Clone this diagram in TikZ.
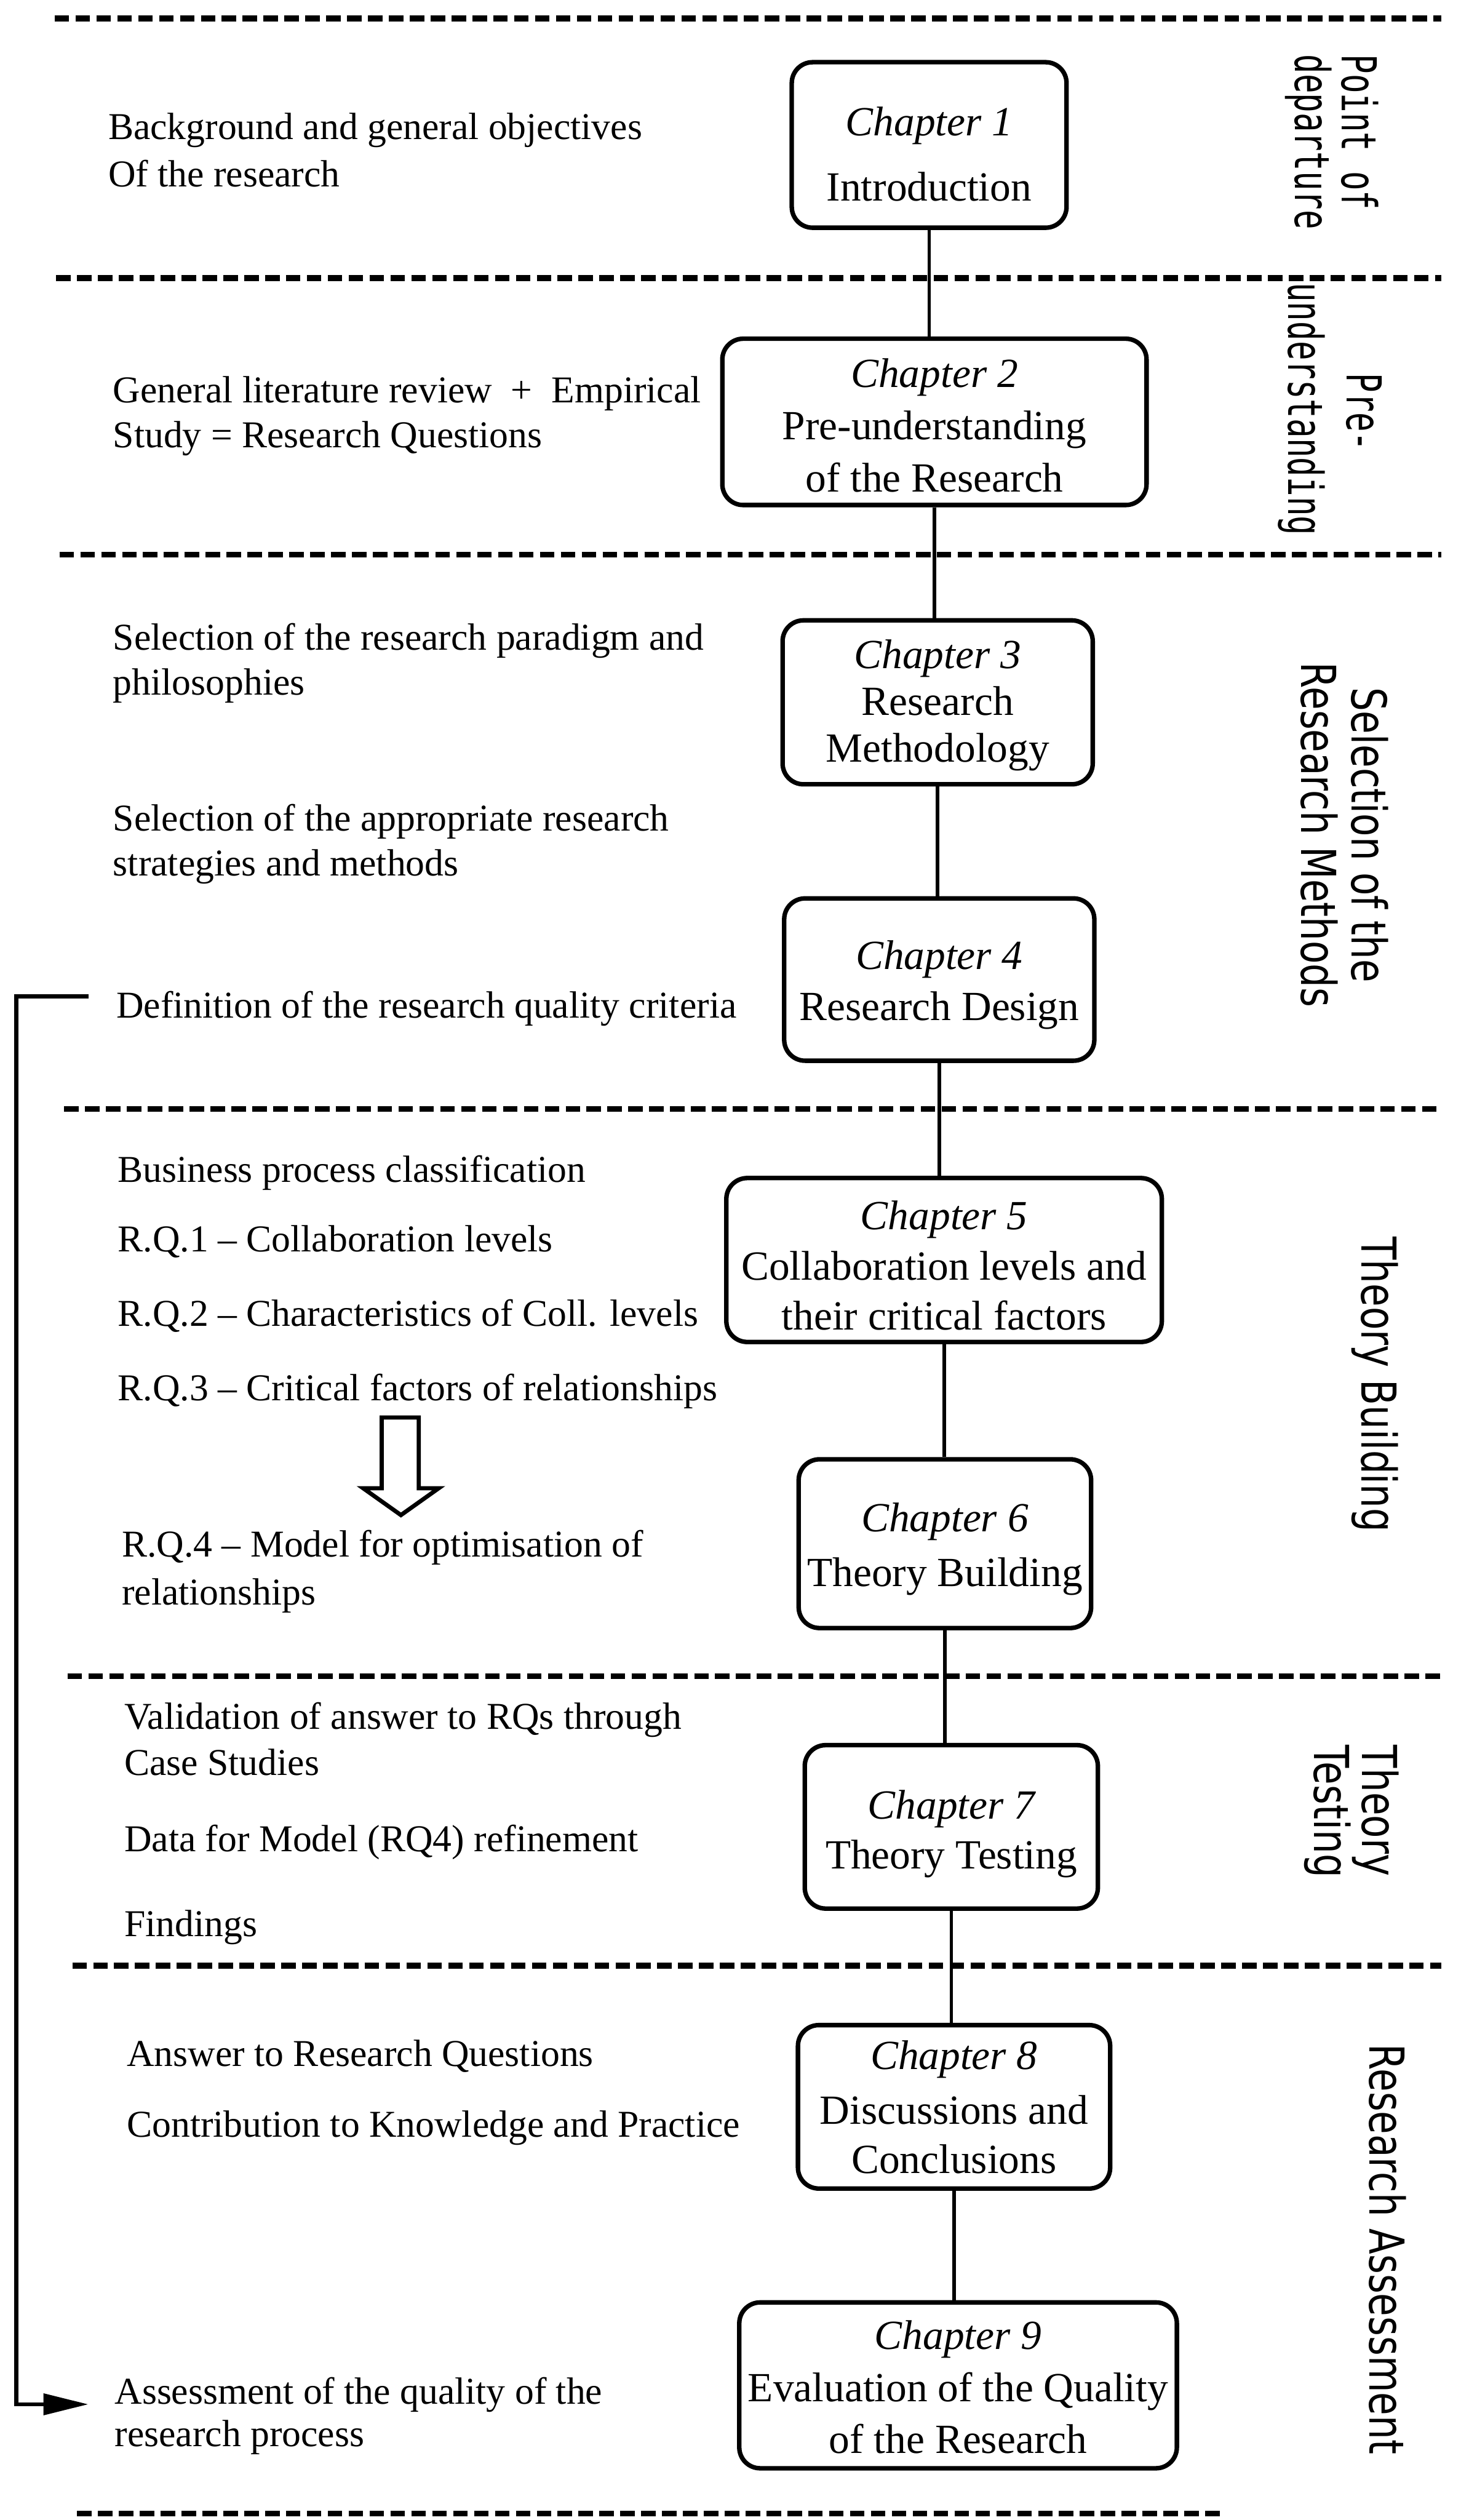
\documentclass[tikz,border=0pt]{standalone}
\usepackage{fontspec}
\setmainfont{Liberation Serif}
\newfontfamily\vsans[FakeStretch=0.78]{DejaVu Sans}
\newfontfamily\vmono[FakeStretch=0.67]{DejaVu Sans Mono}
\usetikzlibrary{arrows.meta}
\begin{document}
\begin{tikzpicture}[x=0.5pt,y=-0.5pt,
 chbox/.style={draw, line width=1.4pt, rounded corners=6.5pt, inner sep=0pt},
 chtxt/.style={anchor=base, inner sep=0pt, font=\fontsize{12.9}{15}\selectfont},
 chit/.style={anchor=base, inner sep=0pt, font=\fontsize{12.9}{15}\selectfont\itshape},
 ltxt/.style={anchor=base west, inner sep=0pt, font=\fontsize{11.8}{14}\selectfont},
 vs/.style={rotate=-90, inner sep=0pt, font=\vsans\fontsize{15}{18}\selectfont},
 vm/.style={rotate=-90, inner sep=0pt, font=\vmono\fontsize{15}{18}\selectfont},
 sep/.style={line width=1.8pt, dash pattern=on 4.5pt off 2pt},
 conn/.style={line width=1.1pt},
 fb/.style={line width=1.3pt},
 hollow/.style={draw, line width=1.3pt, fill=white, line join=miter}
]
\fill[white] (0,0) rectangle (909,1568);
\useasboundingbox (0,0) rectangle (909,1568);

% section separators
\draw[sep] (34,11.5) -- (897,11.5);
\draw[sep] (35,173) -- (897,173);
\draw[sep] (37,345) -- (897,345);
\draw[sep] (40,690) -- (897,690);
\draw[sep] (42,1043) -- (897,1043);
\draw[sep] (45,1223) -- (897,1223);
\draw[sep] (48,1564) -- (760,1564);

% chapter boxes
\node[chbox, minimum width=85.5pt, minimum height=51.5pt] (ch1) at (578.2,90.2) {};
\node[chbox, minimum width=132pt, minimum height=51.75pt] (ch2) at (581.5,262.5) {};
\node[chbox, minimum width=96.5pt, minimum height=51pt] (ch3) at (583.5,437) {};
\node[chbox, minimum width=96.5pt, minimum height=50.5pt] (ch4) at (584.5,609.5) {};
\node[chbox, minimum width=135.5pt, minimum height=51pt] (ch5) at (587.5,784) {};
\node[chbox, minimum width=91pt, minimum height=52.5pt] (ch6) at (588,960.5) {};
\node[chbox, minimum width=91.2pt, minimum height=50.85pt] (ch7) at (592,1136.7) {};
\node[chbox, minimum width=97.15pt, minimum height=50.85pt] (ch8) at (593.7,1310.9) {};
\node[chbox, minimum width=136.15pt, minimum height=51.6pt] (ch9) at (596.2,1484.2) {};

% box texts
\node[chit] (t1a) at (578.2,84.4) {Chapter 1};
\node[chtxt] (t1b) at (578.2,124.8) {Introduction};
\node[chit] (t2a) at (581.5,240.8) {Chapter 2};
\node[chtxt] (t2b) at (581.5,273.7) {Pre-understanding};
\node[chtxt] (t2c) at (581.5,306.1) {of the Research};
\node[chit] (t3a) at (583.5,416) {Chapter 3};
\node[chtxt] (t3b) at (583.5,445) {Research};
\node[chtxt] (t3c) at (583.5,474) {Methodology};
\node[chit] (t4a) at (584.5,603) {Chapter 4};
\node[chtxt] (t4b) at (584.5,635) {Research Design};
\node[chit] (t5a) at (587.5,764.9) {Chapter 5};
\node[chtxt] (t5b) at (587.5,796.6) {Collaboration levels and};
\node[chtxt] (t5c) at (587.5,827.3) {their critical factors};
\node[chit] (t6a) at (588,953) {Chapter 6};
\node[chtxt] (t6b) at (588,987) {Theory Building};
\node[chit] (t7a) at (592,1131.9) {Chapter 7};
\node[chtxt] (t7b) at (592,1162.8) {Theory Testing};
\node[chit] (t8a) at (593.7,1287.7) {Chapter 8};
\node[chtxt] (t8b) at (593.7,1321.5) {Discussions and};
\node[chtxt] (t8c) at (593.7,1352.4) {Conclusions};
\node[chit] (t9a) at (596.2,1461.9) {Chapter 9};
\node[chtxt] (t9b) at (596.2,1494.2) {Evaluation of the Quality};
\node[chtxt] (t9c) at (596.2,1526.6) {of the Research};

% connectors (vertical, from each box down to the next)
\draw[conn] (ch1.south) -- (ch1.south |- ch2.north);
\draw[conn] (ch2.south) -- (ch2.south |- ch3.north);
\draw[conn] (ch3.south) -- (ch3.south |- ch4.north);
\draw[conn] (ch4.south) -- (ch4.south |- ch5.north);
\draw[conn] (ch5.south) -- (ch5.south |- ch6.north);
\draw[conn] (ch6.south) -- (ch6.south |- ch7.north);
\draw[conn] (ch7.south) -- (ch7.south |- ch8.north);
\draw[conn] (ch8.south) -- (ch8.south |- ch9.north);

% left column texts
\node[ltxt] (l1a) at (67,86.7) {Background and general objectives};
\node[ltxt] (l1b) at (67,116) {Of the research};
\node[ltxt] (l2a) at (70,250.5) {General literature review\ \ +\ \ Empirical};
\node[ltxt] (l2b) at (70,278.5) {Study = Research Questions};
\node[ltxt] (l3a) at (70,404.5) {Selection of the research paradigm and};
\node[ltxt] (l3b) at (70,432.5) {philosophies};
\node[ltxt] (l4a) at (70,517) {Selection of the appropriate research};
\node[ltxt] (l4b) at (70,545) {strategies and methods};
\node[ltxt] (l5) at (72,633.5) {Definition of the research quality criteria};
\node[ltxt] (l6) at (73,735.6) {Business process classification};
\node[ltxt] (l7) at (73,779) {R.Q.1 -- Collaboration levels};
\node[ltxt] (l8) at (73,825) {R.Q.2 -- Characteristics of Coll. levels};
\node[ltxt] (l9) at (73,871.4) {R.Q.3 -- Critical factors of relationships};
\node[ltxt] (l10a) at (75.5,968.7) {R.Q.4 -- Model for optimisation of};
\node[ltxt] (l10b) at (75.5,998.6) {relationships};
\node[ltxt] (l11a) at (77,1075.9) {Validation of answer to RQs through};
\node[ltxt] (l11b) at (77,1104.7) {Case Studies};
\node[ltxt] (l12) at (77,1152) {Data for Model (RQ4) refinement};
\node[ltxt] (l13) at (77,1205) {Findings};
\node[ltxt] (l14) at (78.6,1285.5) {Answer to Research Questions};
\node[ltxt] (l15) at (78.6,1329.7) {Contribution to Knowledge and Practice};
\node[ltxt] (l16a) at (71,1495.7) {Assessment of the quality of the};
\node[ltxt] (l16b) at (71,1522.4) {research process};

% hollow arrow RQ3 -> RQ4
\draw[hollow] (237.5,882) -- (260.6,882) -- (260.6,926) -- (273,926) -- (249.5,942.7)
  -- (226,926) -- (237.5,926) -- cycle;

% feedback connector
\coordinate (fbA) at (55,620);
\coordinate (fbB) at (55,1496);
\draw[fb, -{Triangle[length=14pt, width=6.5pt]}] (fbA) -- (10,620) -- (10,1496) -- (fbB);

% vertical section labels
\node[vm, anchor=west] (pod1) at (846.3,33.5) {Point of};
\node[vm, anchor=west] (pod2) at (814.4,33.5) {departure};
\node[vm] (pu1) at (848.7,256.5) {Pre-};
\node[vm] (pu2) at (810,254.5) {understanding};
\node[vs] (sel1) at (852.5,519.5) {Selection of the};
\node[vs] (sel2) at (821,519.5) {Research Methods};
\node[vs] (tb) at (855.5,861.5) {Theory Building};
\node[vs, anchor=west] (tt1) at (856,1085.6) {Theory};
\node[vs, anchor=west] (tt2) at (826,1085.6) {Testing};
\node[vs] (ra) at (863.5,1399.5) {Research Assessment};
\end{tikzpicture}
\end{document}
